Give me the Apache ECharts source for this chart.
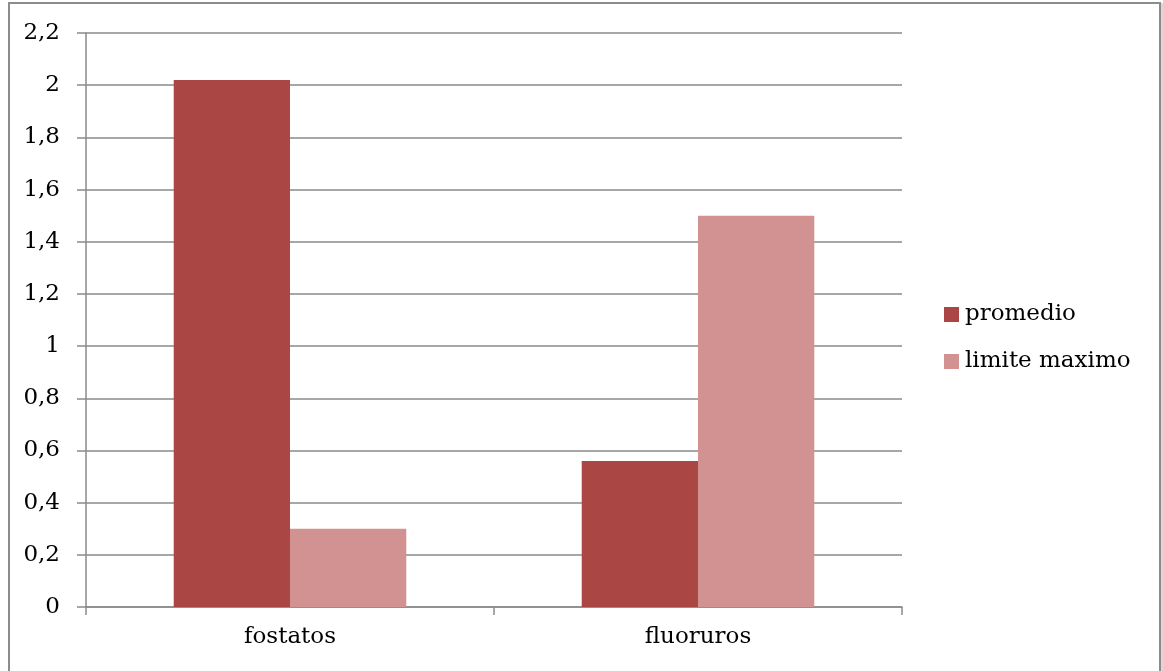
<!DOCTYPE html>
<html>
<head>
<meta charset="utf-8">
<script src="https://cdn.jsdelivr.net/npm/echarts@6/dist/echarts.min.js"></script>
<style>html,body{margin:0;padding:0;background:#fff;}#c{width:1163px;height:671px;}</style>
</head>
<body>
<div id="c"></div>
<script>
const categories = ['fostatos', 'fluoruros'];
const promedio = [2.02, 0.56];
const limiteMaximo = [0.3, 1.5];
const seriesNames = ['promedio', 'limite maximo'];

const FONT = 'DejaVu Serif';
const FS = 23;
const chart = echarts.init(document.getElementById('c'), null, {renderer: 'canvas'});
chart.setOption({
  animation: false,
  backgroundColor: '#fff',
  textStyle: {fontFamily: FONT, color: '#000'},
  grid: {left: 86, top: 33, right: 261, bottom: 64, containLabel: false},
  legend: {
    orient: 'vertical',
    left: 944, top: 303,
    padding: 0,
    itemWidth: 15, itemHeight: 15,
    itemGap: 24,
    icon: 'rect',
    textStyle: {fontFamily: FONT, fontSize: FS, color: '#000', padding: [0,0,0,1], lineHeight: 22},
    data: seriesNames
  },
  xAxis: {
    type: 'category',
    data: categories,
    axisLine: {lineStyle: {color: '#8a8a8a', width: 1.5}},
    axisTick: {show: true, length: 8, lineStyle: {color: '#8a8a8a', width: 1.5}},
    axisLabel: {fontFamily: FONT, fontSize: FS, color: '#000', margin: 19}
  },
  yAxis: {
    type: 'value',
    min: 0, max: 2.2, interval: 0.2,
    axisLine: {show: true, lineStyle: {color: '#8a8a8a', width: 1.5}},
    axisTick: {show: true, length: 9, lineStyle: {color: '#8a8a8a', width: 1.5}},
    axisLabel: {fontFamily: FONT, fontSize: FS, color: '#000', margin: 26,
      formatter: v => String(+v.toFixed(1)).replace('.', ',')},
    splitLine: {lineStyle: {color: '#8a8a8a', width: 1.5}}
  },
  series: [
    {name: seriesNames[0], type: 'bar', data: promedio, barGap: '0%', barCategoryGap: '43%',
     itemStyle: {color: '#AA4745'}},
    {name: seriesNames[1], type: 'bar', data: limiteMaximo, barGap: '0%', barCategoryGap: '43%',
     itemStyle: {color: '#D39292'}}
  ],
  graphic: [
    {type: 'rect', shape: {x: 9, y: 3, width: 1151, height: 700}, silent: true, z: -1,
     style: {fill: 'none', stroke: '#8c8c8c', lineWidth: 2}},
    {type: 'line', shape: {x1: 1162, y1: 3, x2: 1162, y2: 671}, silent: true,
     style: {stroke: '#d9a5a5', lineWidth: 1}}
  ]
});
</script>
</body>
</html>
